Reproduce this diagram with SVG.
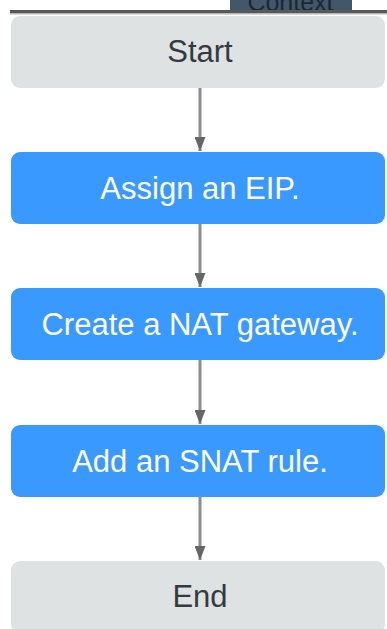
<svg xmlns="http://www.w3.org/2000/svg" width="387" height="629" viewBox="0 0 387 629">
  <style>
    .label { font-family: "Liberation Sans", Arial, sans-serif; font-size: 31px; text-anchor: middle; }
    .term rect { fill: #dfe2e3; }
    .term text { fill: #333a40; }
    .step rect { fill: #3a99ff; }
    .step text { fill: #ffffff; }
    .link { stroke: #8e8e8e; stroke-width: 3; fill: none; }
  </style>
  <defs>
    <!-- arrowhead drawn along +x so orient="auto" points it down the line -->
    <marker id="arrow" viewBox="0 0 14 11" refX="14" refY="5.5" markerWidth="14" markerHeight="11" markerUnits="userSpaceOnUse" orient="auto">
      <path d="M0,0 L14,5.5 L0,11 Z" fill="#666666"/>
    </marker>
  </defs>

  <rect width="387" height="629" fill="#ffffff"/>

  <!-- header strip above the flow -->
  <g id="header">
    <rect x="230" y="0" width="122" height="12" fill="#42576a"/>
    <text x="290.5" y="11" font-family="Liberation Sans, Arial, sans-serif" font-size="25" text-anchor="middle" fill="#1c2733">Context</text>
    <rect x="10" y="10" width="377" height="3" fill="#585858"/>
    <rect x="10" y="13" width="377" height="1.5" fill="#b4b4b4"/>
  </g>

  <!-- connectors -->
  <g id="connectors">
    <line class="link" x1="200" y1="88" x2="200" y2="151" marker-end="url(#arrow)"/>
    <line class="link" x1="200" y1="224" x2="200" y2="287" marker-end="url(#arrow)"/>
    <line class="link" x1="200" y1="360" x2="200" y2="424" marker-end="url(#arrow)"/>
    <line class="link" x1="200" y1="497" x2="200" y2="560" marker-end="url(#arrow)"/>
  </g>

  <g id="start" class="term">
    <rect x="11" y="16" width="374" height="72" rx="9"/>
    <text class="label" x="200" y="62">Start</text>
  </g>

  <g id="assign-eip" class="step">
    <rect x="11" y="152" width="374" height="72" rx="9"/>
    <text class="label" x="200" y="199">Assign an EIP.</text>
  </g>

  <g id="create-nat" class="step">
    <rect x="11" y="288" width="374" height="72" rx="9"/>
    <text class="label" x="200" y="335">Create a NAT gateway.</text>
  </g>

  <g id="add-snat" class="step">
    <rect x="11" y="425" width="374" height="72" rx="9"/>
    <text class="label" x="200" y="472">Add an SNAT rule.</text>
  </g>

  <g id="end" class="term">
    <rect x="11" y="561" width="374" height="72" rx="9"/>
    <text class="label" x="200" y="607">End</text>
  </g>
</svg>
